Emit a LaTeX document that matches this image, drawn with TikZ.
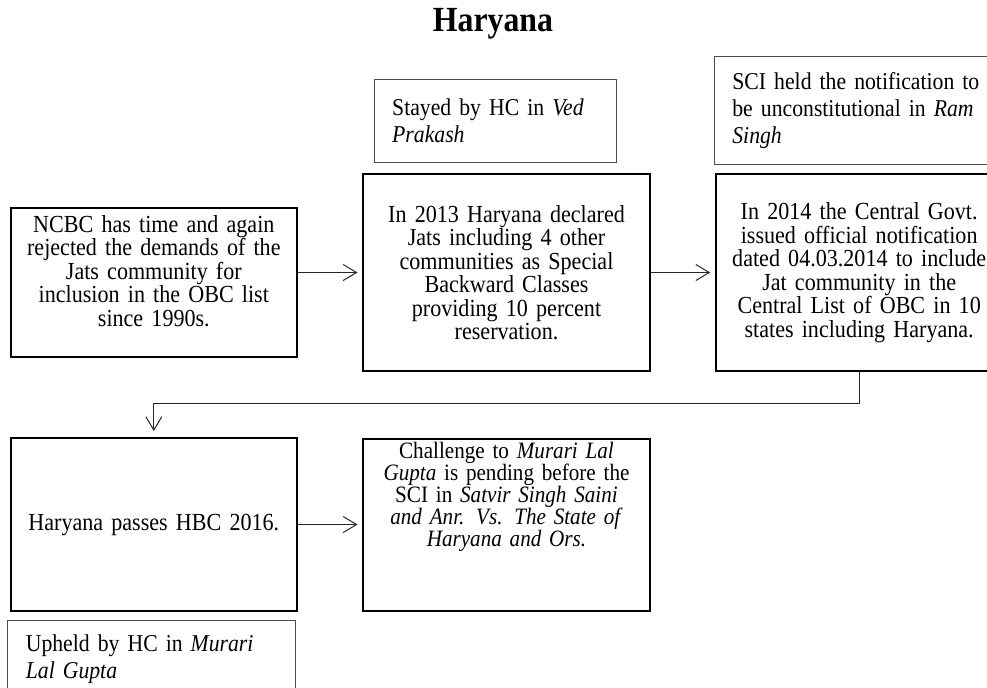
\documentclass[tikz,border=0pt]{standalone}
\usepackage{fontspec}
\setmainfont[FakeStretch=0.9]{Liberation Serif}
\usepackage{tikz}
\usetikzlibrary{positioning,arrows.meta,calc}

\begin{document}
\begin{tikzpicture}[
  x=0.75pt, y=-0.75pt,
  font=\fontsize{18.4}{17.6}\selectfont, >={Straight Barb[length=10pt,width=12pt]}, node distance=48pt,
  fbox/.style={draw, line width=1.5pt, inner xsep=4pt, inner ysep=0pt,
               text width=207pt, align=center},
  note/.style={draw=black!70, line width=0.8pt, inner xsep=13.5pt, inner ysep=0pt,
               align=left, font=\fontsize{18.1}{20.25}\selectfont},
  arr/.style={->, line width=0.75pt, color=black!85},
]
\useasboundingbox (0,0) rectangle (987,687);
\node[font=\fontsize{26.5}{30}\selectfont\bfseries] (title) at (493,24) {Haryana};

\node[fbox, minimum height=147.75pt] (decl) at (506.5,272.5)
  {In 2013 Haryana declared\\ Jats including 4 other\\ communities as Special\\
   Backward Classes\\ providing 10 percent\\ reservation.};
\node[fbox, minimum height=111.75pt, left=of decl, yshift=-7.5pt] (ncbc)
  {NCBC has time and again\\ rejected the demands of the\\ Jats community for\\
   inclusion in the OBC list\\ since 1990s.\par\rule{0pt}{15pt}};
\node[fbox, minimum height=147.75pt, right=of decl] (cent)
  {In 2014 the Central Govt.\\ issued official notification\\ dated 04.03.2014 to include\\
   Jat community in the\\ Central List of OBC in 10\\ states including Haryana.};
\node[fbox, minimum height=129.75pt, below=59.25pt of ncbc] (pass) {Haryana passes HBC 2016.};
\node[fbox, minimum height=129pt, right=of pass, font=\fontsize{17.6}{16.5}\selectfont] (chall)
  {Challenge to \textit{Murari Lal}\\ \textit{Gupta} is pending before the\\
   SCI in \textit{Satvir Singh Saini}\\ \textit{and Anr. Vs. The State of}\\
   \textit{Haryana and Ors.}\par\rule{0pt}{40pt}};

% notes on the court rulings
\node[note, text width=155pt, minimum height=62.25pt, above=7.5pt of decl, xshift=-8.25pt] (stay)
  {Stayed by HC in \textit{Ved}\\ \textit{Prakash}};
\node[note, text width=203pt, minimum height=81pt, above=6pt of cent, xshift=6.4pt] (sci)
  {SCI held the notification to\\ be unconstitutional in \textit{Ram}\\ \textit{Singh}};
\node[note, text width=189pt, minimum height=57.75pt, below=6pt of pass, xshift=-1.5pt] (upheld)
  {Upheld by HC in \textit{Murari}\\ \textit{Lal Gupta}};

\draw[arr, shorten >=3.5pt] (ncbc.east |- decl.west) -- (decl.west);
\draw[arr, shorten >=3.5pt] (decl.east) -- (cent.west);
% back to the second row
\coordinate (turn) at ($(cent.south)+(0,-23.25pt)$);
\draw[arr, shorten >=4.5pt] (cent.south) -- (turn) -| (pass.north);
\draw[arr, shorten >=3.5pt] (pass.east) -- (pass.east -| chall.west);
\end{tikzpicture}
\end{document}
